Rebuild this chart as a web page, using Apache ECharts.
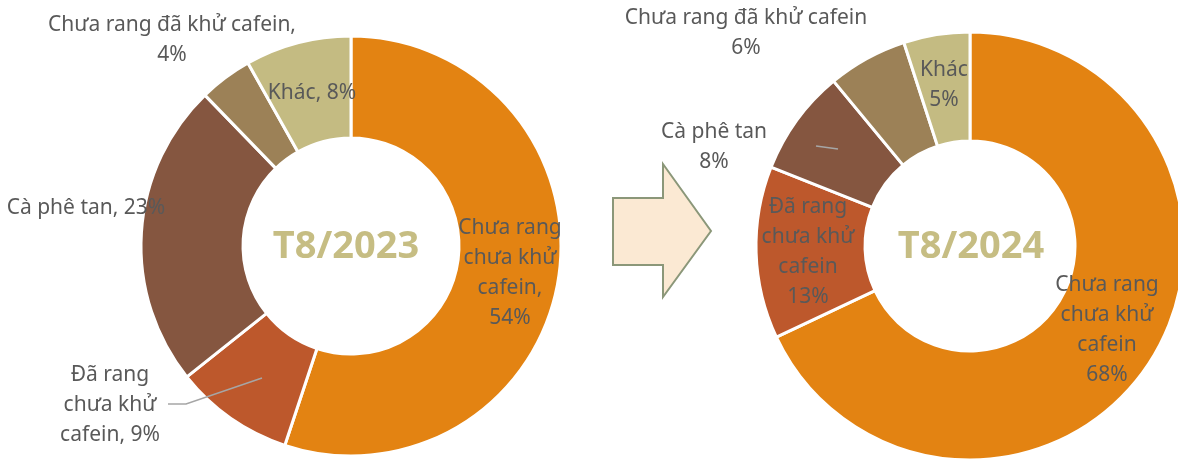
<!DOCTYPE html>
<html>
<head>
<meta charset="utf-8">
<title>Cơ cấu cà phê</title>
<script src="https://cdn.jsdelivr.net/npm/echarts@6/dist/echarts.min.js"></script>
<style>
  html, body { margin: 0; padding: 0; background: #fff; }
  #chart { width: 1178px; height: 459px; }
</style>
</head>
<body>
<div id="chart"></div>
<script>
// du lieu
var categories = ['Chưa rang chưa khử cafein', 'Đã rang chưa khử cafein', 'Cà phê tan', 'Chưa rang đã khử cafein', 'Khác'];
var values2023 = [54, 9, 23, 4, 8];
var values2024 = [68, 13, 8, 6, 5];
var periods = ['T8/2023', 'T8/2024'];

// cach ngat dong nhan (chi la cach trinh bay)
var wrap2023 = ['Chưa rang\nchưa khử\ncafein,\n', 'Đã rang\nchưa khử\ncafein, ', 'Cà phê tan, ', 'Chưa rang đã khử cafein,\n', 'Khác, '];
var wrap2024 = ['Chưa rang\nchưa khử\ncafein\n', 'Đã rang\nchưa khử\ncafein\n', 'Cà phê tan\n', 'Chưa rang đã khử cafein\n', 'Khác\n'];

var colors = ['#E38312', '#BD582C', '#855640', '#9C8157', '#C4BB82'];
var textColor = '#595959';
var font = '"Noto Sans", sans-serif';

// vi tri nhan (tam cua khoi chu)
var labelPos2023 = [[510, 273], [110, 405], [86, 208], [172, 40], [312, 93]];
var labelPos2024 = [[1107, 330], [808, 252], [714, 147], [746, 33], [944, 85]];
// duong dan nhan (kieu Excel)
var leaderLines = [
    [[262, 378], [186, 404], [168, 404]],
    [[816, 146], [838, 149]]
];

var myChart = echarts.init(document.getElementById('chart'));

function makeData(values) {
    return values.map(function (v, i) {
        return { name: categories[i], value: v, itemStyle: { color: colors[i] } };
    });
}

function makeSeries(name, values, wrap, pos, center, radius) {
    return {
        name: name,
        type: 'pie',
        center: center,
        radius: radius,
        startAngle: 90,
        clockwise: true,
        avoidLabelOverlap: false,
        silent: true,
        itemStyle: { borderColor: '#fff', borderWidth: 3 },
        label: {
            show: true,
            position: 'outside',
            color: textColor,
            fontFamily: font,
            fontSize: 21,
            lineHeight: 30,
            align: 'center',
            formatter: function (p) {
                return wrap[p.dataIndex] + p.value + '%';
            }
        },
        labelLine: { show: false },
        labelLayout: function (p) {
            return {
                x: pos[p.dataIndex][0],
                y: pos[p.dataIndex][1],
                align: 'center',
                verticalAlign: 'middle'
            };
        },
        data: makeData(values)
    };
}

var graphics = [
    {
        type: 'polygon',
        shape: {
            points: [[613, 198], [663, 198], [663, 164], [711, 231], [663, 297], [663, 265], [613, 265]]
        },
        style: { fill: '#FBE9D3', stroke: '#8B9779', lineWidth: 2 }
    },
    {
        type: 'text',
        x: 346, y: 247,
        style: {
            text: periods[0], fill: '#C6BD83', font: 'bold 38px "Noto Sans", sans-serif',
            textAlign: 'center', textVerticalAlign: 'middle'
        }
    },
    {
        type: 'text',
        x: 971, y: 247,
        style: {
            text: periods[1], fill: '#C6BD83', font: 'bold 38px "Noto Sans", sans-serif',
            textAlign: 'center', textVerticalAlign: 'middle'
        }
    }
];
leaderLines.forEach(function (pts) {
    graphics.push({
        type: 'polyline',
        z: 100,
        shape: { points: pts },
        style: { stroke: '#A6A6A6', lineWidth: 1.5, fill: null }
    });
});

myChart.setOption({
    animation: false,
    graphic: graphics,
    series: [
        makeSeries(periods[0], values2023, wrap2023, labelPos2023, [351, 246], [108, 210]),
        makeSeries(periods[1], values2024, wrap2024, labelPos2024, [970, 246], [105, 214])
    ]
});
</script>
</body>
</html>
